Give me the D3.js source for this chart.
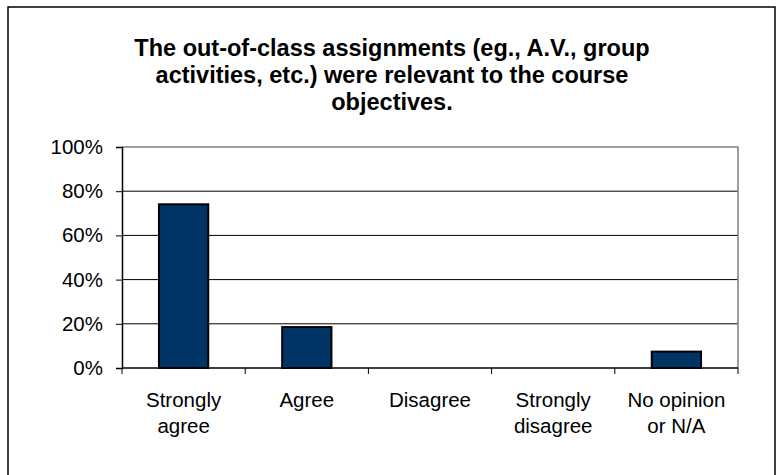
<!DOCTYPE html>
<html>
<head>
<meta charset="utf-8">
<script src="https://cdn.jsdelivr.net/npm/d3@7"></script>
<style>
  body { margin: 0; background: #fff; }
  svg { display: block; font-family: "Liberation Sans", Arial, sans-serif; }
</style>
</head>
<body>
<svg class="chart"></svg>
<script>
// data
const categories = [['Strongly', 'agree'], ['Agree'], ['Disagree'], ['Strongly', 'disagree'], ['No opinion', 'or N/A']];
const values = [0.7407, 0.1852, 0, 0, 0.0741];
const yTicks = [0, 0.2, 0.4, 0.6, 0.8, 1];
const titleLines = ['The out-of-class assignments (eg., A.V., group', 'activities, etc.) were relevant to the course', 'objectives.'];

const svgWidth = 776;
const svgHeight = 475;
const plot = { left: 122, right: 738, top: 147, bottom: 368 };

const svg = d3.select('.chart')
    .attr('width', svgWidth)
    .attr('height', svgHeight);

// outer frame
svg.append('rect')
    .attr('x', 8).attr('y', 7)
    .attr('width', 767).attr('height', 520)
    .attr('fill', 'none')
    .attr('stroke', '#000')
    .attr('stroke-width', 1.5);

// title
svg.append('text')
    .attr('text-anchor', 'middle')
    .attr('font-size', 23.5)
    .attr('font-weight', 'bold')
    .selectAll('tspan')
    .data(titleLines)
    .join('tspan')
    .attr('x', 392)
    .attr('y', (d, i) => 56 + i * 27)
    .text(d => d);

const keys = categories.map((c, i) => i);

const xScale = d3.scaleBand()
    .domain(keys)
    .range([plot.left, plot.right])
    .padding(0);

const yScale = d3.scaleLinear()
    .domain([0, 1])
    .range([plot.bottom, plot.top]);

// gridlines
svg.append('g')
    .selectAll('line')
    .data(yTicks.filter(t => t > 0 && t < 1))
    .join('line')
    .attr('x1', plot.left).attr('x2', plot.right)
    .attr('y1', d => yScale(d)).attr('y2', d => yScale(d))
    .attr('stroke', '#000')
    .attr('stroke-width', 1);

// plot area border (top + right)
svg.append('path')
    .attr('d', `M${plot.left},${yScale(1)}H${plot.right}V${plot.bottom}`)
    .attr('fill', 'none')
    .attr('stroke', '#808080')
    .attr('stroke-width', 1.5);

// bars
const bw = xScale.bandwidth();
svg.append('g')
    .selectAll('rect')
    .data(values)
    .join('rect')
    .attr('x', (d, i) => xScale(i) + bw * 0.3)
    .attr('y', d => yScale(d))
    .attr('width', bw * 0.4)
    .attr('height', d => yScale(0) - yScale(d))
    .attr('fill', '#003366')
    .attr('stroke', '#000')
    .attr('stroke-width', d => d > 0 ? 2 : 0);

// y axis
const yAxis = svg.append('g')
    .attr('transform', `translate(${plot.left}, 0)`)
    .call(d3.axisLeft(yScale).tickValues(yTicks).tickFormat(d3.format('.0%')).tickSize(6).tickPadding(13));
yAxis.select('.domain').attr('stroke', '#000').attr('stroke-width', 1.5);
yAxis.selectAll('.tick line').attr('stroke', '#000');
yAxis.selectAll('text')
    .attr('font-size', 20.5)
    .attr('font-family', '"Liberation Sans", Arial, sans-serif')
    .attr('fill', '#000');

// x axis (ticks at category boundaries)
const xAxis = svg.append('g')
    .attr('transform', `translate(0, ${plot.bottom})`);
xAxis.append('line')
    .attr('x1', plot.left).attr('x2', plot.right)
    .attr('stroke', '#000').attr('stroke-width', 1.5);
xAxis.selectAll('.tk')
    .data(keys.concat([keys.length]))
    .join('line')
    .attr('class', 'tk')
    .attr('x1', d => d < keys.length ? xScale(d) : plot.right)
    .attr('x2', d => d < keys.length ? xScale(d) : plot.right)
    .attr('y1', 0).attr('y2', 6)
    .attr('stroke', '#000');

svg.append('g')
    .selectAll('text')
    .data(categories)
    .join('text')
    .attr('text-anchor', 'middle')
    .attr('font-size', 20.5)
    .each(function(d, i) {
        d3.select(this).selectAll('tspan')
            .data(d)
            .join('tspan')
            .attr('x', xScale(i) + bw / 2)
            .attr('y', (t, j) => 407 + j * 26)
            .text(t => t);
    });
</script>
</body>
</html>
